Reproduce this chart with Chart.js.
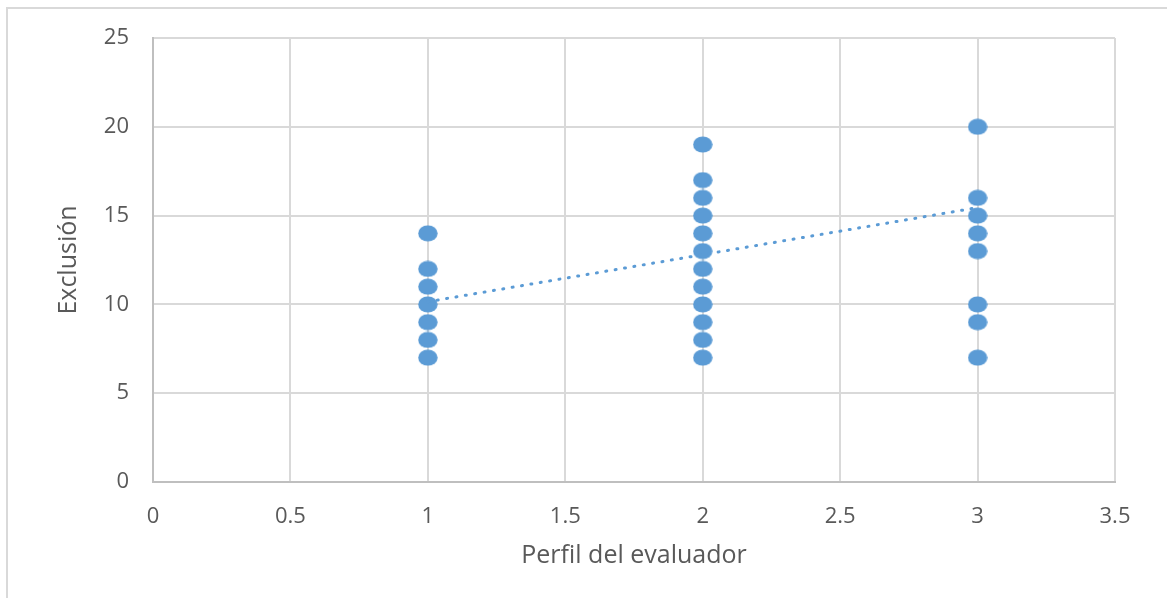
<!DOCTYPE html>
<html>
<head>
<meta charset="utf-8">
<script src="https://cdn.jsdelivr.net/npm/chart.js@4.4.0/dist/chart.umd.min.js"></script>
<style>
  html, body { margin: 0; padding: 0; background: #fff; }
  #wrap { position: relative; width: 1167px; height: 598px; overflow: hidden; }
  #frame {
    position: absolute; left: 6px; top: 7px; width: 1200px; height: 640px;
    border-top: 2px solid #D9D9D9; border-left: 2px solid #D9D9D9;
    box-sizing: border-box;
  }
  #chart { position: absolute; left: 0; top: 0; }
</style>
</head>
<body>
<div id="wrap">
  <div id="frame"></div>
  <canvas id="chart" width="1167" height="598"></canvas>
</div>
<script>
/* Exclusión vs Perfil del evaluador — scatter with linear trendline */

const profile1 = [7, 8, 9, 10, 11, 12, 14];
const profile2 = [7, 8, 9, 10, 11, 12, 13, 14, 15, 16, 17, 19];
const profile3 = [7, 9, 10, 13, 14, 15, 16, 20];

const trendX = [1, 3];
const trendY = [10.15, 15.45];

const xTicks = [0, 0.5, 1, 1.5, 2, 2.5, 3, 3.5];
const yTicks = [0, 5, 10, 15, 20, 25];

const DOT_COLOR = '#5B9BD5';
const TEXT_COLOR = '#595959';

// Excel markers look slightly wider than tall in the picture
function makeDot() {
  const c = document.createElement('canvas');
  c.width = 20;
  c.height = 17;
  const ctx = c.getContext('2d');
  ctx.fillStyle = DOT_COLOR;
  ctx.beginPath();
  ctx.ellipse(10, 8.5, 9.7, 8.1, 0, 0, Math.PI * 2);
  ctx.fill();
  return c;
}

function toPoints(x, values) {
  return values.map(v => ({ x, y: v }));
}

const points = [
  ...toPoints(1, profile1),
  ...toPoints(2, profile2),
  ...toPoints(3, profile3)
];

const trend = trendX.map((x, i) => ({ x, y: trendY[i] }));

const dot = makeDot();

new Chart(document.getElementById('chart'), {
  type: 'scatter',
  data: {
    datasets: [
      {
        label: 'Exclusión',
        data: points,
        pointStyle: dot,
        pointRadius: 9,
        backgroundColor: DOT_COLOR,
        borderColor: DOT_COLOR,
        order: 2
      },
      {
        label: 'Lineal',
        type: 'line',
        data: trend,
        borderColor: DOT_COLOR,
        borderWidth: 3,
        borderDash: [1, 8.5],
        borderCapStyle: 'round',
        pointRadius: 0,
        fill: false,
        order: 1
      }
    ]
  },
  options: {
    responsive: false,
    animation: false,
    layout: { padding: { left: 0, top: 38, right: 52, bottom: 0 } },
    plugins: {
      legend: { display: false },
      tooltip: { enabled: false }
    },
    scales: {
      x: {
        type: 'linear',
        min: 0,
        max: 3.5,
        afterBuildTicks: axis => { axis.ticks = xTicks.map(v => ({ value: v })); },
        afterFit: axis => { axis.height = 116; },
        grid: { color: '#D9D9D9', lineWidth: 2, drawTicks: false },
        border: { color: '#BFBFBF', width: 2 },
        ticks: {
          color: TEXT_COLOR,
          padding: 22,
          font: { family: 'Open Sans', size: 22 },
          callback: v => String(v)
        },
        title: {
          display: true,
          text: 'Perfil del evaluador',
          color: TEXT_COLOR,
          font: { family: 'Open Sans', size: 25 },
          padding: { top: 0, bottom: 27 }
        }
      },
      y: {
        type: 'linear',
        min: 0,
        max: 25,
        afterBuildTicks: axis => { axis.ticks = yTicks.map(v => ({ value: v })); },
        afterFit: axis => { axis.width = 153; },
        grid: { color: '#D9D9D9', lineWidth: 2, drawTicks: false },
        border: { color: '#BFBFBF', width: 2 },
        ticks: {
          color: TEXT_COLOR,
          padding: 24,
          font: { family: 'Open Sans', size: 22 },
          callback: v => String(v)
        },
        title: {
          display: true,
          text: 'Exclusión',
          color: TEXT_COLOR,
          font: { family: 'Open Sans', size: 25 },
          padding: { top: 54, bottom: 0 }
        }
      }
    }
  }
});
</script>
</body>
</html>
